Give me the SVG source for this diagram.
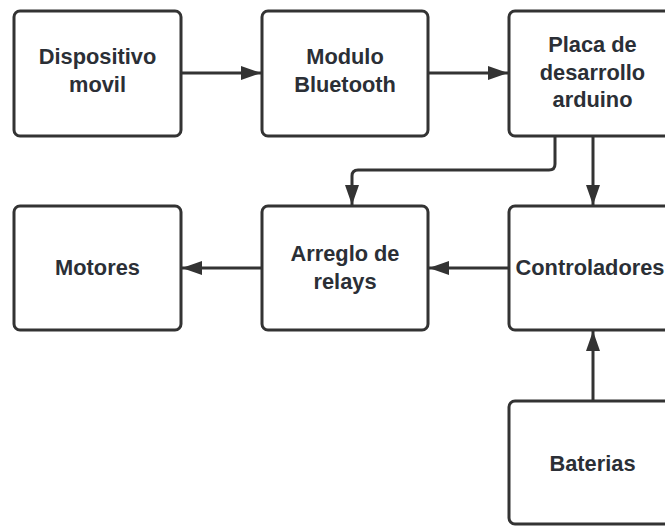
<svg xmlns="http://www.w3.org/2000/svg" width="665" height="527" viewBox="0 0 665 527">
  <style>
    .box { fill: #ffffff; stroke: #333333; stroke-width: 3; }
    .lbl { font-family: "Liberation Sans", Arial, sans-serif; font-weight: bold; font-size: 21.8px; fill: #2b2f36; text-anchor: middle; }
    .wire { fill: none; stroke: #333333; stroke-width: 3; }
  </style>
  <defs>
    <marker id="arrow" viewBox="0 0 20 14" refX="20" refY="7" markerWidth="20" markerHeight="14" markerUnits="userSpaceOnUse" orient="auto">
      <path d="M0,0 L20,7 L0,14 Z" fill="#333333"/>
    </marker>
  </defs>
  <rect width="665" height="527" fill="#ffffff"/>

  <g id="connectors">
    <path class="wire" d="M181,73 H261" marker-end="url(#arrow)"/>
    <path class="wire" d="M428,73 H508" marker-end="url(#arrow)"/>
    <path class="wire" d="M555,136 V164 Q555,170 549,170 H358 Q352,170 352,176 V205" marker-end="url(#arrow)"/>
    <path class="wire" d="M593,136 V205" marker-end="url(#arrow)"/>
    <path class="wire" d="M509,268 H429" marker-end="url(#arrow)"/>
    <path class="wire" d="M262,268 H182" marker-end="url(#arrow)"/>
    <path class="wire" d="M593,401 V331" marker-end="url(#arrow)"/>
  </g>

  <g id="dispositivo">
    <rect class="box" x="14" y="11" width="167" height="125" rx="6"/>
    <text class="lbl" x="97.5" y="63.5">Dispositivo</text>
    <text class="lbl" x="97.5" y="92">movil</text>
  </g>
  <g id="bluetooth">
    <rect class="box" x="262" y="11" width="166" height="125" rx="6"/>
    <text class="lbl" x="345" y="63.5">Modulo</text>
    <text class="lbl" x="345" y="92">Bluetooth</text>
  </g>
  <g id="arduino">
    <rect class="box" x="509" y="11" width="167" height="125" rx="6"/>
    <text class="lbl" x="592.5" y="52">Placa de</text>
    <text class="lbl" x="592.5" y="79.5">desarrollo</text>
    <text class="lbl" x="592.5" y="107">arduino</text>
  </g>
  <g id="motores">
    <rect class="box" x="14" y="206" width="167" height="124" rx="6"/>
    <text class="lbl" x="97.5" y="275">Motores</text>
  </g>
  <g id="relays">
    <rect class="box" x="262" y="206" width="166" height="124" rx="6"/>
    <text class="lbl" x="345" y="261">Arreglo de</text>
    <text class="lbl" x="345" y="289">relays</text>
  </g>
  <g id="controladores">
    <rect class="box" x="509" y="206" width="167" height="124" rx="6"/>
    <text class="lbl" x="590" y="275">Controladores</text>
  </g>
  <g id="baterias">
    <rect class="box" x="509" y="401" width="167" height="123" rx="6"/>
    <text class="lbl" x="592.5" y="470.5">Baterias</text>
  </g>
</svg>
